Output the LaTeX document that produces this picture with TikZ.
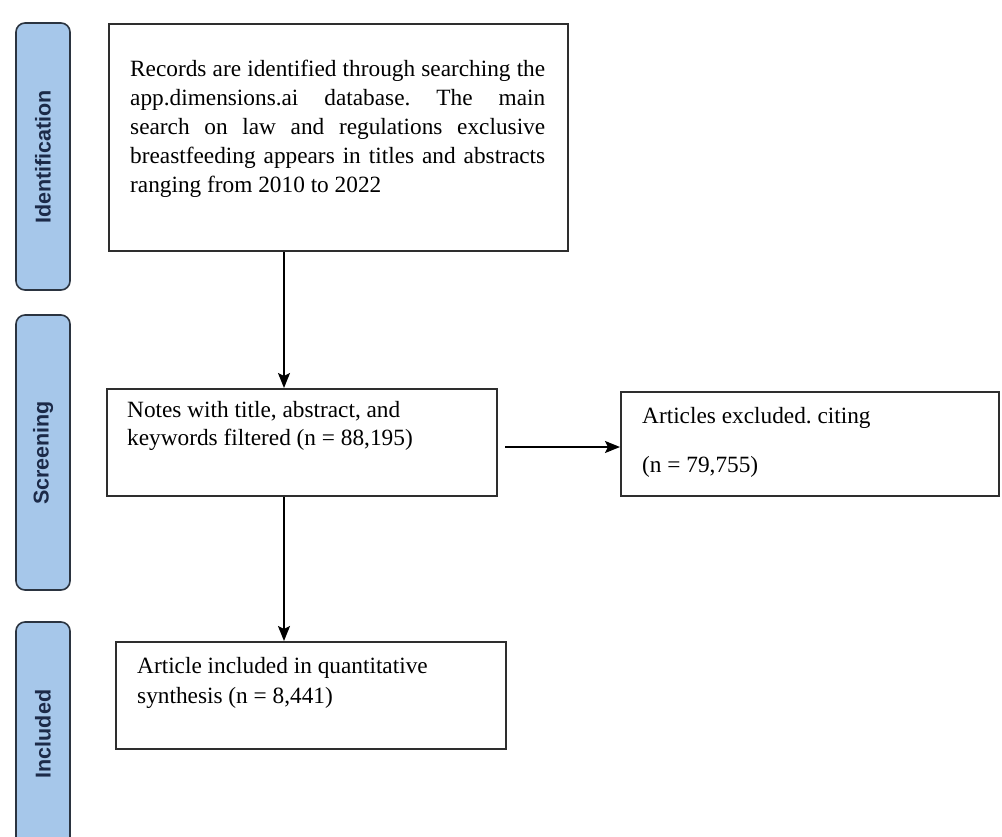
\documentclass[tikz,border=0pt]{standalone}
\usepackage{fontspec}
\setmainfont{Liberation Serif}
\newfontfamily\barfont{Liberation Sans}
\usetikzlibrary{arrows.meta}
\definecolor{barfill}{HTML}{A6C7EA}
\definecolor{barline}{HTML}{2B3440}
\definecolor{bartext}{HTML}{1C2A48}
\definecolor{boxline}{HTML}{2E2E2E}
\frenchspacing
\begin{document}
\begin{tikzpicture}[x=1pt,y=-1pt,
  stagebar/.style={draw=barline,line width=1.6pt,fill=barfill,rounded corners=9pt},
  stagelabel/.style={rotate=90,font=\barfont\bfseries\fontsize{21.5}{21.5}\selectfont,text=bartext},
  flowbox/.style={draw=boxline,line width=2pt,fill=white,anchor=north west,inner sep=0pt},
  flowtext/.style={font=\fontsize{23.3}{29}\selectfont,align=left,anchor=north west,inner sep=0pt},
  flowarrow/.style={draw=black,line width=1.8pt,-{Stealth[length=15pt,width=12pt,inset=3pt]}}]
\useasboundingbox (0,0) rectangle (1002,836);
\fill[white] (0,0) rectangle (1002,836);
\begin{scope}
\clip (0,0) rectangle (1002,836);
% stage bars
\draw[stagebar] (16,23) rectangle (70,290);
\node[stagelabel] (lid) at (43,157) {Identification};
\draw[stagebar] (16,315) rectangle (70,590);
\node[stagelabel] (lsc) at (43,453) {Screening};
\draw[stagebar] (16,622) rectangle (70,848);
\node[stagelabel] (lin) at (43,734) {Included};
% boxes
\node[flowbox,minimum width=459pt,minimum height=227pt] (b1) at (108,23) {};
\node[flowtext,text width=415pt,align=justify] (t1) at (130,60) {Records are identified through searching the\linebreak app.dimensions.ai database. The main\linebreak search on law and regulations exclusive\linebreak breastfeeding appears in titles and abstracts\linebreak ranging from 2010 to 2022};
\node[flowbox,minimum width=390pt,minimum height=107pt] (b2) at (106,388) {};
\node[flowtext,font=\fontsize{23.3}{28}\selectfont] (t2) at (127,401) {Notes with title, abstract, and\\keywords filtered (n = 88,195)};
\node[flowbox,minimum width=378pt,minimum height=104pt] (b3) at (620,391) {};
\node[flowtext] (t3) at (642,407) {Articles excluded. citing\\[20pt](n = 79,755)};
\node[flowbox,minimum width=390pt,minimum height=107pt] (b4) at (115,641) {};
\node[flowtext,font=\fontsize{23.3}{30}\selectfont] (t4) at (137,657) {Article included in quantitative\\synthesis (n = 8,441)};
% arrows
\draw[flowarrow] (b1.south -| 284,0) -- (b2.north -| 284,0);
\draw[flowarrow] (b2.south -| 284,0) -- (b4.north -| 284,0);
\coordinate (a3s) at (505,447);
\draw[flowarrow] (a3s) -- (b3.west |- a3s);
\end{scope}
\end{tikzpicture}
\end{document}
